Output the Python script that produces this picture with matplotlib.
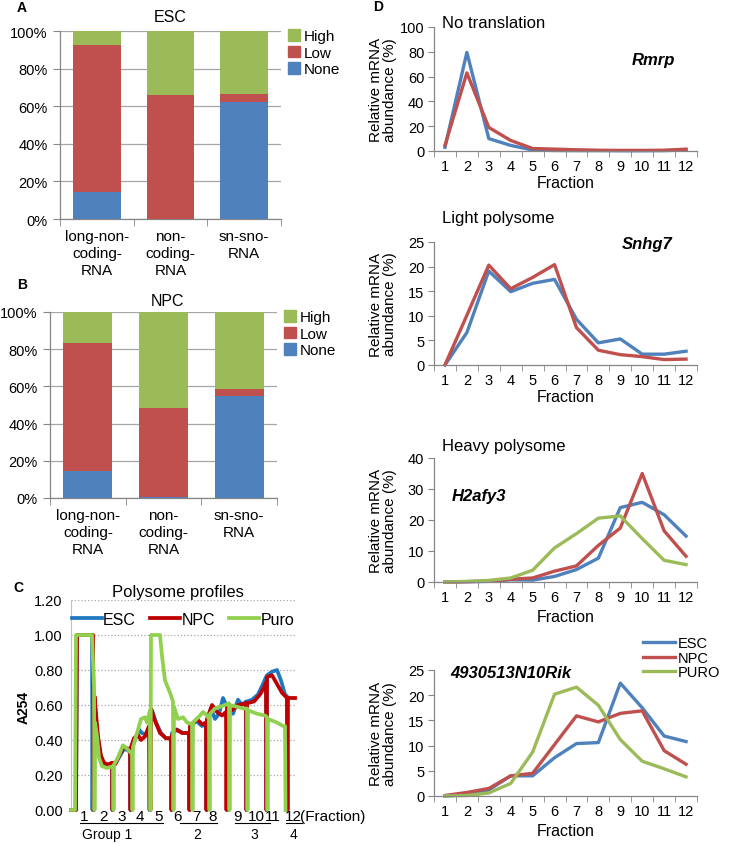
import matplotlib
matplotlib.use('Agg')
import matplotlib.pyplot as plt
import matplotlib.transforms as mtrans
from matplotlib.patches import Patch
from matplotlib.ticker import FixedLocator, FuncFormatter

plt.rcParams['font.family'] = ['Liberation Sans', 'DejaVu Sans']

W, H = 746, 845

# ---------------- Panel A / B data ----------------
rna_categories = ['long-non-\ncoding-\nRNA', 'non-\ncoding-\nRNA', 'sn-sno-\nRNA']
esc_none = [14.2, 0.0, 62.4]
esc_low = [78.5, 66.1, 4.1]
esc_high = [7.3, 33.9, 33.5]
npc_none = [14.7, 0.7, 54.8]
npc_low = [68.8, 47.9, 3.8]
npc_high = [16.5, 51.4, 41.4]
pct_ticks = [0, 20, 40, 60, 80, 100]

# ---------------- Panel C data (position, A254) per fraction segment ----------------
esc_profile = [
    [(71, 0), (76, 0), (77, 1.0), (92, 1.0)],
    [(93, 0.7), (95, 0.6), (97, 0.45), (100, 0.32), (103, 0.27), (108, 0.25), (112, 0.26)],
    [(113, 0.26), (116, 0.27), (120, 0.31), (124, 0.35), (128, 0.34), (130, 0.33)],
    [(131, 0.35), (135, 0.40), (139, 0.46), (142, 0.44), (146, 0.43), (149, 0.47)],
    [(150, 0.53), (152, 0.57), (156, 0.50), (161, 0.44), (166, 0.41), (171, 0.41)],
    [(172, 0.44), (177, 0.46), (183, 0.44), (189, 0.44)],
    [(190, 0.47), (196, 0.51), (202, 0.48), (206, 0.49)],
    [(207, 0.50), (211, 0.58), (215, 0.52), (219, 0.55), (223, 0.64), (228, 0.58)],
    [(229, 0.60), (233, 0.55), (238, 0.63), (242, 0.60), (246, 0.62)],
    [(247, 0.62), (252, 0.63), (258, 0.66), (263, 0.72), (266, 0.76)],
    [(267, 0.77), (272, 0.79), (277, 0.80), (281, 0.74), (285, 0.66), (287, 0.65)],
]
npc_profile = [
    [(71, 0), (76, 0), (77, 1.0), (93, 1.0)],
    [(94.5, 0.65), (96, 0.55), (98, 0.42), (101, 0.31), (104, 0.27), (108, 0.26), (112, 0.27)],
    [(113, 0.27), (115, 0.26), (120, 0.32), (124, 0.36), (128, 0.35), (130, 0.34)],
    [(131, 0.36), (134, 0.41), (138, 0.43), (141, 0.40), (145, 0.42), (149, 0.48)],
    [(151, 0.58), (155, 0.51), (160, 0.44), (166, 0.41), (171, 0.41)],
    [(172, 0.43), (176, 0.46), (182, 0.44), (189, 0.44)],
    [(190, 0.48), (197, 0.52), (202, 0.49), (206, 0.50)],
    [(207, 0.52), (212, 0.60), (217, 0.56), (222, 0.54), (226, 0.56)],
    [(227, 0.60), (232, 0.57), (238, 0.60), (246, 0.61)],
    [(247, 0.61), (254, 0.62), (260, 0.66), (264, 0.70), (266, 0.73)],
    [(267, 0.76), (272, 0.77), (277, 0.72), (282, 0.67), (287, 0.64)],
    [(288, 0.64), (295, 0.64)],
]
puro_profile = [
    [(71, 0), (75, 0), (76, 1.0), (92, 1.0), (94, 0.7)],
    [(95, 0.50), (97, 0.42), (99, 0.30), (102, 0.25), (107, 0.24), (113, 0.25)],
    [(114, 0.26), (118, 0.30), (123, 0.37), (127, 0.35), (132, 0.32)],
    [(133, 0.36), (136, 0.42), (141, 0.52), (145, 0.53), (147, 0.50), (150, 0.57)],
    [(151, 1.0), (160, 1.0), (162, 0.88), (165, 0.74), (170, 0.67), (173, 0.62)],
    [(174, 0.59), (178, 0.52), (183, 0.53), (187, 0.50), (192, 0.49)],
    [(193, 0.50), (200, 0.54), (203, 0.56), (207, 0.54), (209, 0.52)],
    [(210, 0.55), (215, 0.58), (220, 0.59), (225, 0.60), (229, 0.61)],
    [(230, 0.60), (237, 0.59), (243, 0.58), (247, 0.58)],
    [(248, 0.57), (257, 0.55), (265, 0.54), (267, 0.53)],
    [(268, 0.52), (277, 0.50), (283, 0.48), (285, 0.48)],
]
profile_yticks = [0.0, 0.2, 0.4, 0.6, 0.8, 1.0, 1.2]
fraction_labels = ['1', '2', '3', '4', '5', '6', '7', '8', '9', '10', '11', '12']
fraction_label_pos = [84, 103, 122, 140, 159, 178, 196, 213, 237, 256, 273, 293]
group_names = ['Group 1', '2', '3', '4']
group_spans = [(80, 163), (180, 217), (235, 270), (286, 302)]
group_text_pos = [107, 197, 254, 294]

# ---------------- Panel D data ----------------
fractions = list(range(1, 13))
rmrp_esc = [3, 79.5, 10, 4.5, 0.8, 0.4, 0.3, 0.3, 0.2, 0.2, 0.3, 0.8]
rmrp_npc = [4.5, 63, 19, 8.5, 2, 1.5, 1, 0.6, 0.5, 0.5, 0.6, 1.5]
snhg7_esc = [0, 6.6, 19.1, 14.9, 16.6, 17.4, 9.3, 4.5, 5.3, 2.2, 2.2, 2.8]
snhg7_npc = [0, 10.1, 20.3, 15.5, 17.8, 20.4, 7.6, 3.0, 2.1, 1.7, 1.1, 1.2]
h2afy3_esc = [0, 0.1, 0.2, 0.7, 0.6, 1.8, 4.0, 7.7, 24.0, 25.7, 21.7, 14.8]
h2afy3_npc = [0, 0.1, 0.3, 0.9, 1.3, 3.5, 5.2, 11.8, 17.4, 35.0, 16.5, 8.3]
h2afy3_puro = [0, 0.2, 0.5, 1.3, 3.8, 11.0, 15.6, 20.6, 21.3, 14.0, 7.0, 5.6]
rik_esc = [0, 0.3, 1.2, 4.0, 4.0, 7.6, 10.4, 10.6, 22.4, 17.5, 11.9, 10.8]
rik_npc = [0.1, 0.7, 1.5, 4.0, 4.5, 10.2, 15.9, 14.7, 16.4, 16.9, 9.0, 6.3]
rik_puro = [0, 0.1, 0.6, 2.5, 8.7, 20.2, 21.6, 18.0, 11.2, 6.9, 5.4, 3.8]

BLUE, RED, GREEN = '#4F81BD', '#C0504D', '#9BBB59'
C_BLUE, C_RED, C_GREEN = '#1F77C0', '#C00000', '#92D050'
GRAY = '#868686'

fig = plt.figure(figsize=(W / 100, H / 100), dpi=100)


def add_ax(l, t, r, b):
    return fig.add_axes([l / W, 1 - b / H, (r - l) / W, (b - t) / H])


def ftext(x, y, s, **kw):
    fig.text(x / W, 1 - y / H, s, **kw)


def style_spines(ax):
    for s in ['top', 'right']:
        ax.spines[s].set_visible(False)
    for s in ['left', 'bottom']:
        ax.spines[s].set_color(GRAY)
        ax.spines[s].set_linewidth(0.9)


# ---------------- Panels A, B ----------------
def stacked(ax, none, low, high, title, title_xy):
    x = list(range(len(rna_categories)))
    bot2 = [a + b for a, b in zip(none, low)]
    ax.bar(x, none, width=0.65, color=BLUE, zorder=3)
    ax.bar(x, low, bottom=none, width=0.65, color=RED, zorder=3)
    ax.bar(x, high, bottom=bot2, width=0.65, color=GREEN, zorder=3)
    ax.set_xlim(-0.5, len(x) - 0.5)
    ax.set_ylim(0, 100)
    ax.set_yticks(pct_ticks)
    ax.set_yticklabels([f'{v}%' for v in pct_ticks], fontsize=10.5)
    ax.set_xticks(x)
    ax.set_xticklabels(rna_categories, fontsize=11, linespacing=1.3)
    ax.xaxis.set_minor_locator(FixedLocator([-0.5, 0.5, 1.5, 2.5]))
    ax.tick_params(axis='x', which='major', length=0, pad=7)
    ax.tick_params(axis='x', which='minor', length=5, color=GRAY, direction='out')
    ax.tick_params(axis='y', length=5, color=GRAY, pad=4)
    ax.yaxis.grid(True, color='#A6A6A6', linewidth=0.9, zorder=0)
    ax.set_axisbelow(True)
    style_spines(ax)
    ftext(title_xy[0], title_xy[1], title, fontsize=11.5, ha='center', va='center')
    handles = [Patch(color=GREEN), Patch(color=RED), Patch(color=BLUE)]
    ax.legend(handles, ['High', 'Low', 'None'], loc='upper left',
              bbox_to_anchor=(1.03, 1.01), frameon=False, fontsize=11,
              handlelength=0.8, handleheight=0.8, handletextpad=0.25,
              labelspacing=0.15, borderpad=0, borderaxespad=0)


axA = add_ax(60, 32, 281, 220)
stacked(axA, esc_none, esc_low, esc_high, 'ESC', (170, 17))
axB = add_ax(50, 313, 277, 499)
stacked(axB, npc_none, npc_low, npc_high, 'NPC', (167, 301))

ftext(22, 8, 'A', fontsize=10, fontweight='bold', ha='center', va='center')
ftext(22, 285, 'B', fontsize=10, fontweight='bold', ha='center', va='center')
ftext(18, 588, 'C', fontsize=10, fontweight='bold', ha='center', va='center')
ftext(378, 7, 'D', fontsize=10, fontweight='bold', ha='center', va='center')

# ---------------- Panel C ----------------
axC = add_ax(71, 601, 295, 811)


def build(segs, end_drop):
    xs, ys = [], []
    for i, seg in enumerate(segs):
        if i > 0:
            xs.append(seg[0][0] - 0.5)
            ys.append(0)
        xs += [p[0] for p in seg]
        ys += [p[1] for p in seg]
    if end_drop:
        xs.append(segs[-1][-1][0] + 0.5)
        ys.append(0)
    return xs, ys


lw_c = 2.7
lines = []
for segs, col, lab, drop in [(esc_profile, C_BLUE, 'ESC', True),
                             (npc_profile, C_RED, 'NPC', False),
                             (puro_profile, C_GREEN, 'Puro', True)]:
    xs, ys = build(segs, drop)
    ln, = axC.plot(xs, ys, color=col, lw=lw_c, label=lab, solid_joinstyle='round',
                   clip_on=False, zorder=3)
    lines.append(ln)
axC.set_xlim(71, 295)
axC.set_ylim(0, 1.2)
axC.set_yticks(profile_yticks)
axC.yaxis.set_major_formatter(FuncFormatter(lambda v, p: f'{v:.2f}'))
axC.tick_params(axis='y', labelsize=10.5, length=0, pad=6)
axC.set_xticks([])
axC.yaxis.grid(True, color='#A6A6A6', linestyle=':', linewidth=0.9)
axC.set_axisbelow(True)
for s in ['top', 'right', 'bottom']:
    axC.spines[s].set_visible(False)
axC.spines['left'].set_color('#BFBFBF')
axC.legend(handles=lines, ncol=3, loc='upper left', bbox_to_anchor=(72 / W, 1 - 613 / H),
           bbox_transform=fig.transFigure, frameon=False, fontsize=11.5,
           handlelength=1.85, handletextpad=0.1, columnspacing=0.9,
           borderpad=0, borderaxespad=0)
ftext(178, 592, 'Polysome profiles', fontsize=12, ha='center', va='center')
ftext(24, 707, 'A254', fontsize=10, fontweight='bold', rotation=90, ha='center', va='center')

trans = mtrans.blended_transform_factory(axC.transData, fig.transFigure)
for lab, xp in zip(fraction_labels, fraction_label_pos):
    axC.text(xp, 1 - 817 / H, lab, transform=trans, fontsize=11, ha='center', va='center')
axC.text(fraction_label_pos[-1] + 7, 1 - 817 / H, '(Fraction)', transform=trans,
         fontsize=11, ha='left', va='center')
for name, (x0, x1), xt in zip(group_names, group_spans, group_text_pos):
    axC.plot([x0, x1], [1 - 824 / H] * 2, transform=trans, color='black', lw=0.8,
             clip_on=False)
    axC.text(xt, 1 - 835 / H, name, transform=trans, fontsize=10, ha='center', va='center')

# ---------------- Panel D ----------------
def dpanel(box, series, yticks, title, gene, gene_xy, xlabel_y):
    ax = add_ax(*box)
    for vals, col in series:
        ax.plot(fractions, vals, color=col, lw=2.4, solid_joinstyle='round', clip_on=False)
    ax.set_xlim(0.5, 12.5)
    ax.set_ylim(yticks[0], yticks[-1])
    ax.set_yticks(yticks)
    ax.tick_params(axis='y', labelsize=10.5, length=4, color=GRAY, pad=3)
    ax.set_xticks(fractions)
    ax.xaxis.set_minor_locator(FixedLocator([f + 0.5 for f in range(0, 13)]))
    ax.tick_params(axis='x', which='major', length=0, labelsize=10.5, pad=6)
    ax.tick_params(axis='x', which='minor', length=4, color=GRAY)
    style_spines(ax)
    l, t, r, b = box
    ftext(383, (t + b) / 2, 'Relative mRNA\nabundance (%)', fontsize=11, rotation=90,
          ha='center', va='center', linespacing=1.0)
    ftext((l + r) / 2, xlabel_y, 'Fraction', fontsize=11.5, ha='center', va='center')
    if title:
        ftext(442, t - 4, title, fontsize=12, ha='left', va='center')
    ftext(gene_xy[0], gene_xy[1], gene, fontsize=12, fontweight='bold', style='italic',
          ha='left', va='center')
    return ax


dpanel((434, 28, 697, 152), [(rmrp_esc, BLUE), (rmrp_npc, RED)],
       [0, 20, 40, 60, 80, 100], 'No translation', 'Rmrp', (632, 60), 183)
dpanel((434, 243, 697, 366), [(snhg7_esc, BLUE), (snhg7_npc, RED)],
       [0, 5, 10, 15, 20, 25], None, 'Snhg7', (622, 245), 398)
ftext(442, 218, 'Light polysome', fontsize=12, ha='left', va='center')
dpanel((434, 459, 697, 583), [(h2afy3_esc, BLUE), (h2afy3_npc, RED), (h2afy3_puro, GREEN)],
       [0, 10, 20, 30, 40], None, 'H2afy3', (452, 497), 618)
ftext(442, 447, 'Heavy polysome', fontsize=12, ha='left', va='center')
ax4 = dpanel((434, 671, 697, 797), [(rik_esc, BLUE), (rik_npc, RED), (rik_puro, GREEN)],
             [0, 5, 10, 15, 20, 25], None, '4930513N10Rik', (450, 674), 832)
ax4.legend(ax4.get_lines(), ['ESC', 'NPC', 'PURO'], loc='upper left',
           bbox_to_anchor=(643 / W, 1 - 637 / H), bbox_transform=fig.transFigure,
           frameon=False, fontsize=10.5, handlelength=2.2, handletextpad=0.2,
           labelspacing=0.05, borderpad=0, borderaxespad=0)

fig.savefig('out.png', dpi=100)
